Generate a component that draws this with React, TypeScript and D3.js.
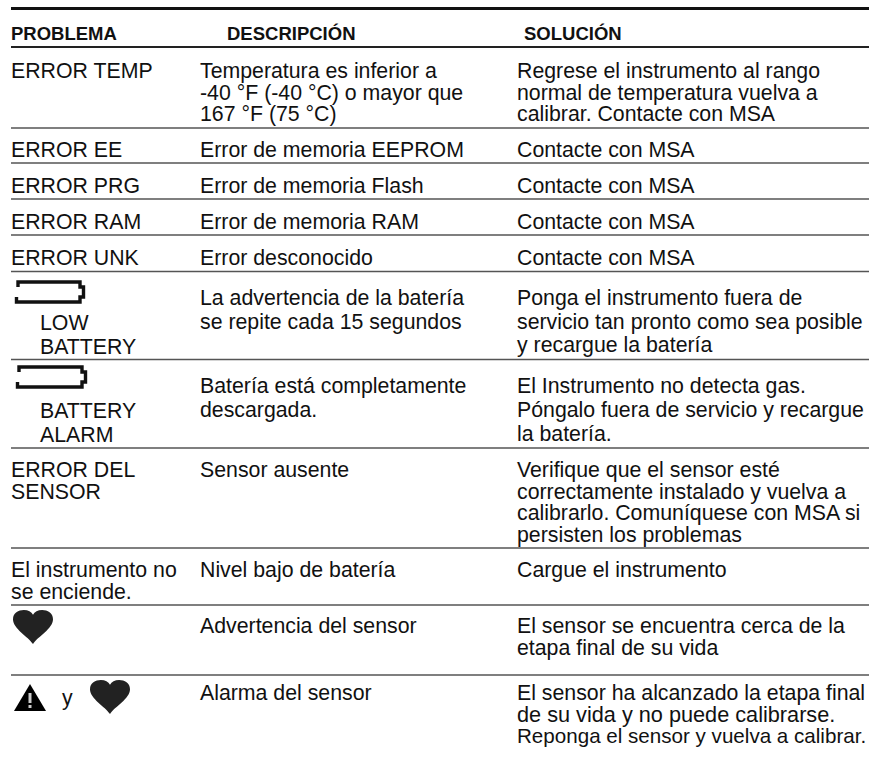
import React, { useEffect, useRef } from "react";
import * as d3 from "d3";

const headers = ["PROBLEMA", "DESCRIPCIÓN", "SOLUCIÓN"];

const problems = [
  ["ERROR TEMP"],
  ["ERROR EE"],
  ["ERROR PRG"],
  ["ERROR RAM"],
  ["ERROR UNK"],
  [],
  [],
  ["ERROR DEL", "SENSOR"],
  ["El instrumento no", "se enciende."],
  [],
  [],
];

const descriptions = [
  ["Temperatura es inferior a", "-40 °F (-40 °C) o mayor que", "167 °F (75 °C)"],
  ["Error de memoria EEPROM"],
  ["Error de memoria Flash"],
  ["Error de memoria RAM"],
  ["Error desconocido"],
  ["La advertencia de la batería", "se repite cada 15 segundos"],
  ["Batería está completamente", "descargada."],
  ["Sensor ausente"],
  ["Nivel bajo de batería"],
  ["Advertencia del sensor"],
  ["Alarma del sensor"],
];

const solutions = [
  ["Regrese el instrumento al rango", "normal de temperatura vuelva a", "calibrar. Contacte con MSA"],
  ["Contacte con MSA"],
  ["Contacte con MSA"],
  ["Contacte con MSA"],
  ["Contacte con MSA"],
  ["Ponga el instrumento fuera de", "servicio tan pronto como sea posible", "y recargue la batería"],
  ["El Instrumento no detecta gas.", "Póngalo fuera de servicio y recargue", "la batería."],
  ["Verifique que el sensor esté", "correctamente instalado y vuelva a", "calibrarlo. Comuníquese con MSA si", "persisten los problemas"],
  ["Cargue el instrumento"],
  ["El sensor se encuentra cerca de la", "etapa final de su vida"],
  ["El sensor ha alcanzado la etapa final", "de su vida y no puede calibrarse.", "Reponga el sensor y vuelva a calibrar."],
];

const batteryLabels = [
  { row: 5, lines: ["LOW", "BATTERY"] },
  { row: 6, lines: ["BATTERY", "ALARM"] },
];

// layout
const width = 871;
const height = 761;
const ruleY = [47, 128, 163, 199, 235, 271.5, 359.5, 448, 548, 605, 675];
const firstBaseline = [78, 157, 193, 229, 265, 305, 393, 477, 577, 633, 700];
const rowLineHeight = [21.7, 0, 0, 0, 0, 23.5, 24, 21.5, 21.5, 22, 21.5];
const colX = [11, 200, 517];
const headerX = [11, 227, 524];
const textSize = 21.3;
// the last row is set a little tighter / looser in the scan
const resizedLines: Record<string, number> = {
  "Reponga el sensor y vuelva a calibrar.": 20.6,
  "de su vida y no puede calibrarse.": 21.7,
};
const font = "'Liberation Sans', Arial, sans-serif";

function heartPath(w: number, h: number) {
  const p = d3.path();
  p.moveTo(w / 2, h);
  p.bezierCurveTo(w * 0.38, h * 0.78, 0, h * 0.55, 0, h * 0.27);
  p.bezierCurveTo(0, h * 0.08, w * 0.14, 0, w * 0.27, 0);
  p.bezierCurveTo(w * 0.38, 0, w * 0.46, h * 0.06, w / 2, h * 0.14);
  p.bezierCurveTo(w * 0.54, h * 0.06, w * 0.62, 0, w * 0.73, 0);
  p.bezierCurveTo(w * 0.86, 0, w, h * 0.08, w, h * 0.27);
  p.bezierCurveTo(w, h * 0.55, w * 0.62, h * 0.78, w / 2, h);
  p.closePath();
  return p.toString();
}

function batteryPath(w: number, h: number) {
  const p = d3.path();
  // top edge with the small left cap
  p.moveTo(3, 7);
  p.lineTo(3, 2);
  p.lineTo(w - 5, 2);
  p.lineTo(w - 5, 7);
  // contact nub on the right
  p.lineTo(w - 1.5, 7);
  p.lineTo(w - 1.5, h - 7);
  p.lineTo(w - 5, h - 7);
  p.lineTo(w - 5, h - 2);
  // bottom edge
  p.lineTo(1.5, h - 2);
  p.lineTo(1.5, h - 7);
  return p.toString();
}

export default function App() {
  const svgRef = useRef<SVGSVGElement>(null);

  useEffect(() => {
    const svg = d3.select(svgRef.current);
    svg.selectAll("*").remove();

    // heavy top rule
    svg.append("rect").attr("x", 11).attr("y", 7).attr("width", 858).attr("height", 3).attr("fill", "#111");

    svg
      .selectAll("text.header")
      .data(headers)
      .join("text")
      .attr("class", "header")
      .attr("x", (_, i) => headerX[i])
      .attr("y", 39.5)
      .attr("font-size", 18.5)
      .attr("font-weight", "bold")
      .attr("fill", "#111")
      .text((d) => d);

    svg
      .selectAll("line.rule")
      .data(ruleY)
      .join("line")
      .attr("class", "rule")
      .attr("x1", 11)
      .attr("x2", 869)
      .attr("y1", (d) => d)
      .attr("y2", (d) => d)
      .attr("stroke", (_, i) => (i === 0 ? "#222" : "#555"))
      .attr("stroke-width", (_, i) => (i === 0 ? 2.2 : 1.6));

    const columns = [problems, descriptions, solutions];
    columns.forEach((col, c) => {
      col.forEach((lines, r) => {
        svg
          .append("g")
          .selectAll("text")
          .data(lines)
          .join("text")
          .attr("x", colX[c])
          .attr("y", (_, i) => firstBaseline[r] + i * rowLineHeight[r])
          .attr("font-size", (d) => resizedLines[d] ?? textSize)
          .attr("fill", "#111")
          .text((d) => d);
      });
    });

    batteryLabels.forEach(({ row, lines }) => {
      svg
        .append("g")
        .selectAll("text")
        .data(lines)
        .join("text")
        .attr("x", 40)
        .attr("y", (_, i) => Math.round(ruleY[row]) + 58 + i * 24)
        .attr("font-size", textSize)
        .attr("fill", "#111")
        .text((d) => d);
    });

    // battery icons
    [
      { x: 15, y: 280, w: 70 },
      { x: 16, y: 365, w: 71 },
    ].forEach((b) => {
      svg
        .append("path")
        .attr("transform", `translate(${b.x},${b.y})`)
        .attr("d", batteryPath(b.w, 24))
        .attr("fill", "none")
        .attr("stroke", "#111")
        .attr("stroke-width", 3.4);
    });

    // hearts
    [
      { x: 13, y: 610 },
      { x: 90, y: 680 },
    ].forEach((h) => {
      svg
        .append("path")
        .attr("transform", `translate(${h.x},${h.y})`)
        .attr("d", heartPath(40, 34))
        .attr("fill", "#222");
    });

    // warning triangle with exclamation mark
    const tri = d3.path();
    tri.moveTo(30, 711);
    tri.lineTo(14, 711);
    tri.lineTo(30, 684);
    tri.lineTo(46, 711);
    tri.closePath();
    svg.append("path").attr("d", tri.toString()).attr("fill", "#000");
    svg.append("rect").attr("x", 28.5).attr("y", 693).attr("width", 3).attr("height", 10).attr("fill", "#ccc");
    svg.append("rect").attr("x", 28.5).attr("y", 705).attr("width", 3).attr("height", 3).attr("fill", "#ccc");

    svg.append("text").attr("x", 62).attr("y", 705).attr("font-size", textSize).attr("fill", "#111").text("y");
  }, []);

  return (
    <svg
      ref={svgRef}
      width={width}
      height={height}
      style={{ position: "absolute", left: 0, top: 0, fontFamily: font, background: "#fff" }}
    />
  );
}
